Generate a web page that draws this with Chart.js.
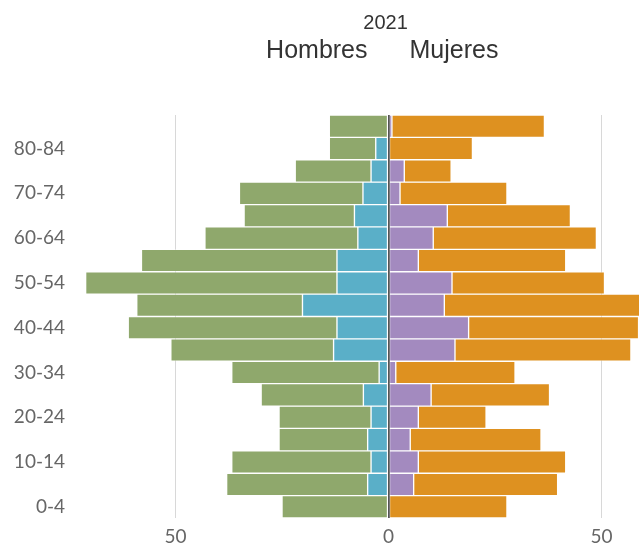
<!DOCTYPE html>
<html>
<head>
<meta charset="utf-8">
<script src="https://cdn.jsdelivr.net/npm/chart.js@4"></script>
<style>
  html, body { margin: 0; padding: 0; background: #fff; }
  canvas { display: block; }
</style>
</head>
<body>
<canvas id="c" width="639" height="547"></canvas>
<script>
const titleYear = '2021';
const leftTitle = 'Hombres';
const rightTitle = 'Mujeres';

const ageGroups = ['0-4','5-9','10-14','15-19','20-24','25-29','30-34','35-39','40-44','45-49','50-54','55-59','60-64','65-69','70-74','75-79','80-84','85+'];

// Hombres (drawn to the left, negative)
const hombresBlue  = [0, -4.9, -4.1, -4.9, -4.1, -5.9, -2.2, -12.9, -12.1, -20.2, -12.1, -12.1, -7.2, -8.0, -6.0, -4.1, -3.0, 0];
const hombresGreen = [-25.0, -33.1, -32.7, -20.8, -21.6, -24.0, -34.6, -38.2, -49.0, -38.9, -59.0, -45.9, -35.9, -25.9, -29.0, -17.8, -10.9, -13.9];
// Mujeres (drawn to the right)
const mujeresPurple = [0, 5.9, 7.0, 5.1, 7.0, 10.0, 1.7, 15.6, 18.8, 13.1, 14.9, 7.0, 10.5, 13.8, 2.7, 3.7, 0, 0.8];
const mujeresOrange = [27.8, 33.8, 34.6, 30.7, 15.9, 27.8, 28.0, 41.3, 39.9, 47.9, 35.8, 34.6, 38.3, 28.9, 25.1, 11.0, 19.7, 35.8];

const xTickValues = [-50, 0, 50];

const colors = {
  blue: '#5aafc8',
  green: '#8fa86c',
  purple: '#a38abf',
  orange: '#de9120'
};

const barBorder = 'rgba(255,255,255,0.35)';

function ds(label, data, color) {
  return {
    label, data,
    backgroundColor: color,
    borderColor: barBorder,
    borderWidth: 1,
    borderSkipped: false,
    barPercentage: 1,
    categoryPercentage: 1
  };
}

const headerPlugin = {
  id: 'header',
  afterDraw(chart) {
    const ctx = chart.ctx;
    const x0 = chart.scales.x.getPixelForValue(0);
    ctx.save();
    ctx.fillStyle = '#333';
    ctx.textBaseline = 'alphabetic';
    ctx.font = '20px "Liberation Sans", Arial, sans-serif';
    ctx.textAlign = 'center';
    ctx.fillText(titleYear, x0 - 3, 29);
    ctx.font = '25px "Liberation Sans", Arial, sans-serif';
    ctx.textAlign = 'right';
    ctx.fillText(leftTitle, x0 - 21, 58);
    ctx.textAlign = 'left';
    ctx.fillText(rightTitle, x0 + 21, 58);
    ctx.restore();
  }
};

new Chart(document.getElementById('c'), {
  type: 'bar',
  data: {
    labels: ageGroups,
    datasets: [
      ds('Hombres A', hombresBlue, colors.blue),
      ds('Hombres B', hombresGreen, colors.green),
      ds('Mujeres A', mujeresPurple, colors.purple),
      ds('Mujeres B', mujeresOrange, colors.orange)
    ]
  },
  options: {
    indexAxis: 'y',
    responsive: false,
    animation: false,
    layout: { padding: { top: 115, left: 0, right: 0, bottom: 0 } },
    plugins: {
      legend: { display: false },
      tooltip: { enabled: false },
      title: { display: false }
    },
    scales: {
      x: {
        stacked: true,
        min: -73.6,
        max: 58.8,
        z: 1,
        border: { display: false },
        afterBuildTicks(scale) {
          scale.ticks = xTickValues.map(v => ({ value: v }));
        },
        afterFit(scale) { scale.height = 29; },
        grid: {
          drawTicks: false,
          color: (c) => c.tick && c.tick.value === 0 ? '#555' : 'rgba(200,200,200,0.7)',
          lineWidth: (c) => c.tick && c.tick.value === 0 ? 2 : 1
        },
        ticks: {
          padding: 7,
          color: '#666',
          font: { family: 'Lato', size: 19 },
          callback: (v) => Math.abs(v)
        }
      },
      y: {
        stacked: true,
        reverse: true,
        border: { display: false },
        grid: { display: false, drawTicks: false },
        afterFit(scale) { scale.width = 75; },
        ticks: {
          autoSkip: false,
          padding: 10,
          color: '#666',
          font: { family: 'Lato', size: 19 },
          callback: (v, i) => (i % 2 === 0 ? ageGroups[i] : '')
        }
      }
    }
  },
  plugins: [headerPlugin]
});
</script>
</body>
</html>
